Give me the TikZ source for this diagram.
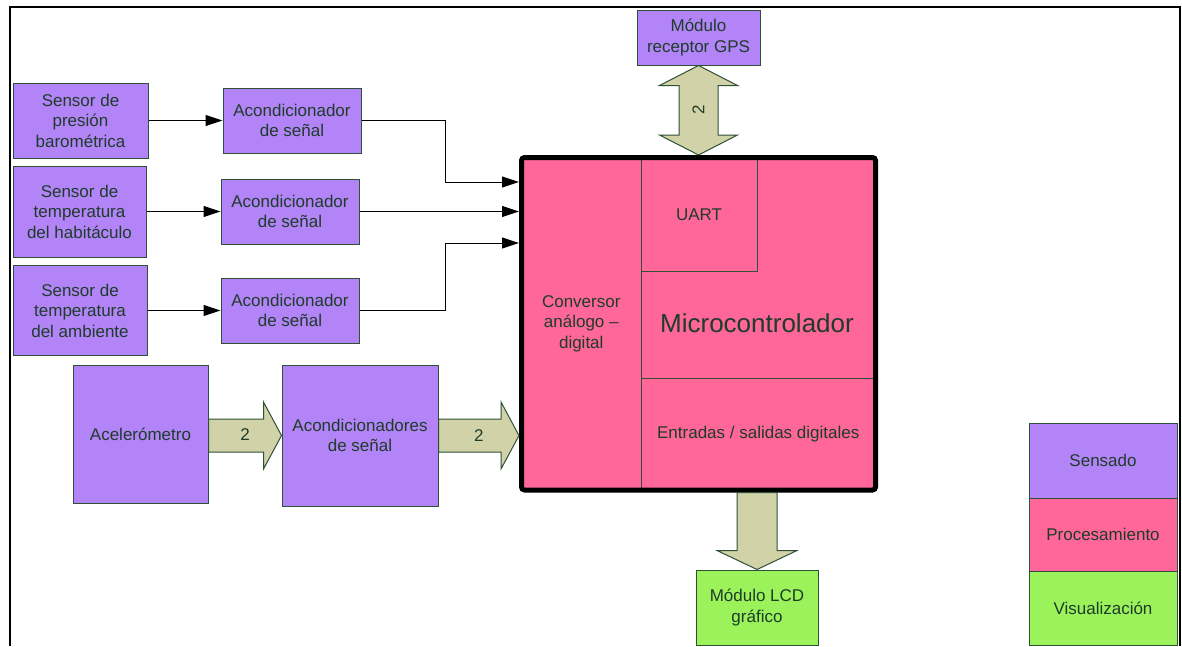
\documentclass[tikz,border=0pt]{standalone}
\usepackage{fontspec}
\setmainfont{Liberation Sans}
\usetikzlibrary{arrows.meta,calc}
\definecolor{purp}{RGB}{178,132,247}
\definecolor{pinkc}{RGB}{255,102,153}
\definecolor{greenc}{RGB}{155,242,90}
\definecolor{tanc}{RGB}{210,210,168}
\definecolor{bordc}{RGB}{45,80,55}
\definecolor{textc}{RGB}{30,60,42}
\begin{document}
\begin{tikzpicture}[x=1pt,y=-1pt,
  box/.style={draw=bordc,line width=1pt,text=textc,align=center,inner sep=0pt,font=\fontsize{17}{20.5}\selectfont},
  sens/.style={box,fill=purp},
  proc/.style={box,fill=pinkc},
  vis/.style={box,fill=greenc},
  wire/.style={line width=1pt,-{Triangle[length=17pt,width=11pt]}},
  barrow/.style={fill=tanc,draw=bordc,line width=1pt},
  blab/.style={text=textc,font=\fontsize{17}{20}\selectfont},
  frameline/.style={line width=2.5pt}]
\useasboundingbox (0,0) rectangle (1182,646);
% frame
\draw[frameline] (10,646) -- (10,7) -- (1180,7) -- (1180,646);

% sensors and conditioners
\node[sens,minimum width=135pt,minimum height=75pt] (s1) at (80.5,120.5) {Sensor de\\presión\\barométrica};
\node[sens,minimum width=138pt,minimum height=65pt] (a1) at (292,120.5) {Acondicionador\\de señal};
\node[sens,minimum width=133pt,minimum height=91pt] (s2) at (79.5,211.5) {Sensor de\\temperatura\\del habitáculo};
\node[sens,minimum width=138pt,minimum height=65pt] (a2) at (290,211.5) {Acondicionador\\de señal};
\node[sens,minimum width=134pt,minimum height=90pt] (s3) at (80,310.5) {Sensor de\\temperatura\\del ambiente};
\node[sens,minimum width=138pt,minimum height=65pt] (a3) at (290,310.5) {Acondicionador\\de señal};
\node[sens,minimum width=135pt,minimum height=138pt] (acc) at (140.5,434) {Acelerómetro};
\node[sens,minimum width=156pt,minimum height=141pt] (acr) at (360,435.5) {Acondicionadores\\de señal};

% microcontroller
\node[proc,minimum width=119.5pt,minimum height=332.5pt] (adc) at (581.25,323.75) {Conversor\\análogo –\\digital};
\node[proc,minimum width=234.5pt,minimum height=220.5pt] (core) at (758.25,267.75) {};
\node[proc,minimum width=116pt,minimum height=113.5pt] (uart) at (699,214.25) {UART};
\node[proc,minimum width=234.5pt,minimum height=112pt] (io) at (758.25,434) {Entradas / salidas digitales};
\node[text=textc,font=\fontsize{26}{30}\selectfont] (mcname) at (757,323) {Microcontrolador};
\node[draw=black,line width=5pt,rounded corners=3pt,minimum width=354pt,minimum height=332.5pt,inner sep=0pt] (mc) at (698.5,323.75) {};

% GPS and LCD
\node[sens,minimum width=123pt,minimum height=55pt] (gps) at (698.5,37.5) {Módulo\\receptor GPS};
\node[vis,minimum width=122pt,minimum height=75pt] (lcd) at (757,607.5) {Módulo LCD\\gráfico};

% legend
\node[sens,minimum width=148pt,minimum height=75pt] (leg1) at (1103,460.5) {Sensado};
\node[proc,minimum width=148pt,minimum height=73pt] (leg2) at (1103,534.5) {Procesamiento};
\node[vis,minimum width=148pt,minimum height=74pt] (leg3) at (1103,608) {Visualización};

% wires
\draw[wire] (s1.east) -- (a1.west);
\draw[wire] (s2.east) -- (a2.west);
\draw[wire] (s3.east) -- (a3.west);
\coordinate (e1) at (445,182);
\coordinate (e3) at (445,243);
\draw[wire] (a1.east) -| (e1) -- (mc.west |- e1);
\draw[wire] (a2.east) -- (mc.west |- a2.east);
\draw[wire] (a3.east) -| (e3) -- (mc.west |- e3);

% block arrows
\draw[barrow] let \p1=(acc.east), \p2=(acr.west) in
  (\x1,\y2+16.5pt) -- (\x2-18pt,\y2+16.5pt) -- (\x2-18pt,\y2+33.5pt) -- (\x2,\y2)
  -- (\x2-18pt,\y2-33.5pt) -- (\x2-18pt,\y2-16.5pt) -- (\x1,\y2-16.5pt) -- cycle;
\node[blab] at ($(acc.east)!0.5!(acr.west)$) {2};
\draw[barrow] let \p1=(acr.east), \p2=(mc.west) in
  (\x1,\y1+16.5pt) -- (\x2-18pt,\y1+16.5pt) -- (\x2-18pt,\y1+33.5pt) -- (\x2,\y1)
  -- (\x2-18pt,\y1-33.5pt) -- (\x2-18pt,\y1-16.5pt) -- (\x1,\y1-16.5pt) -- cycle;
\node[blab] at ($(acr.east)!0.5!(mc.west |- acr.east)$) {2};
\draw[barrow] let \p1=(gps.south), \p2=(mc.north) in
  (\x1,\y1) -- (\x1+39pt,\y1-20pt) -- (\x1+19.5pt,\y1-20pt) -- (\x1+19.5pt,\y2+20pt)
  -- (\x1+39pt,\y2+20pt) -- (\x1,\y2) -- (\x1-39pt,\y2+20pt) -- (\x1-19.5pt,\y2+20pt)
  -- (\x1-19.5pt,\y1-20pt) -- (\x1-39pt,\y1-20pt) -- cycle;
\node[blab,rotate=90] at ($(gps.south)!0.5!(mc.north)$) {2};
\draw[barrow] let \p1=(mc.south), \p2=(lcd.north) in
  (\x2-20pt,\y1) -- (\x2-20pt,\y2+19pt) -- (\x2-40pt,\y2+19pt) -- (\x2,\y2)
  -- (\x2+40pt,\y2+19pt) -- (\x2+20pt,\y2+19pt) -- (\x2+20pt,\y1) -- cycle;
\end{tikzpicture}
\end{document}
